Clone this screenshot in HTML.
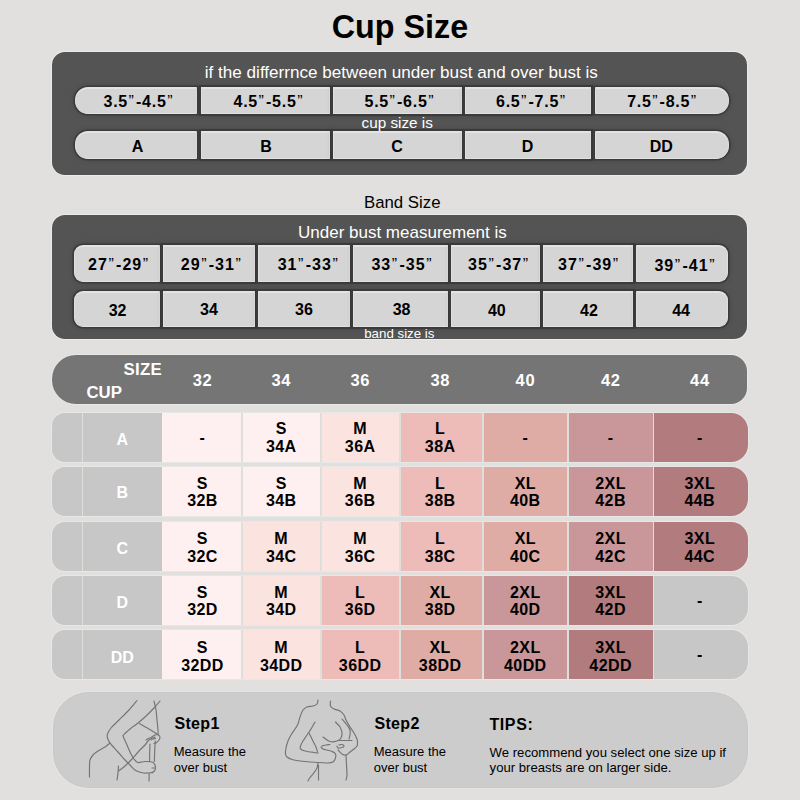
<!DOCTYPE html>
<html><head><meta charset="utf-8">
<style>
*{margin:0;padding:0;box-sizing:border-box}
html,body{width:800px;height:800px;overflow:hidden;background:#e1e0de;font-family:"Liberation Sans",sans-serif;color:#000}
.a{position:absolute}
.t{position:absolute;white-space:nowrap;text-align:center;line-height:1}
.box{position:absolute;background:#545454;border-radius:13px;box-shadow:0 0 0 1px #ebebea}
.c{position:absolute;background:#d5d5d5;border:1.6px solid #dfdfdf;border-top:2px solid #e3e3e3;border-bottom:1.8px solid #e1e1e1;box-shadow:0 0 0.5px 1.6px #3b3b3b,0 0 5px 2px rgba(0,0,0,0.12)}
.row{position:absolute;left:52px;width:696px;height:48.8px;border-radius:13px 17px 17px 13px;overflow:hidden;background:#dddfdb;box-shadow:0 0 0 1px #e7e7e5}
.cell{position:absolute;top:0;height:100%}
.S{background:#fef0f0}
.M{background:#fbe4e0}
.L{background:#edbbb8}
.XL{background:#deaca5}
.X2{background:#c9969a}
.X3{background:#b27b7e}
.G{background:#c7c7c7}
.q{font-weight:normal;margin:0 1.3px 0 0.6px}
</style></head><body>

<div class="t" style="left:-100.00px;width:1000px;top:11.36px;font-size:32.3px;font-weight:bold;color:#000;">Cup Size</div>
<div class="box" style="left:52px;top:52px;width:695px;height:123px"></div>
<div class="t" style="left:-98.70px;width:1000px;top:64.37px;font-size:17.1px;font-weight:normal;color:#fff;">if the differrnce between under bust and over bust is</div>
<div class="c" style="left:75px;top:87px;width:122px;height:27px;border-radius:13px 0 0 13px"></div>
<div class="c" style="left:75px;top:131px;width:122px;height:28px;border-radius:13px 0 0 13px"></div>
<div class="c" style="left:200.5px;top:87px;width:129.5px;height:27px;border-radius:0"></div>
<div class="c" style="left:200.5px;top:131px;width:129.5px;height:28px;border-radius:0"></div>
<div class="c" style="left:333px;top:87px;width:128.5px;height:27px;border-radius:0"></div>
<div class="c" style="left:333px;top:131px;width:128.5px;height:28px;border-radius:0"></div>
<div class="c" style="left:465px;top:87px;width:126px;height:27px;border-radius:0"></div>
<div class="c" style="left:465px;top:131px;width:126px;height:28px;border-radius:0"></div>
<div class="c" style="left:595px;top:87px;width:133.5px;height:27px;border-radius:0 13px 13px 0"></div>
<div class="c" style="left:595px;top:131px;width:133.5px;height:28px;border-radius:0 13px 13px 0"></div>
<div class="t" style="left:-361.00px;width:1000px;top:93.96px;font-size:16px;font-weight:bold;color:#000;letter-spacing:0.75px">3.5<span class="q">”</span>-4.5<span class="q">”</span></div>
<div class="t" style="left:-362.50px;width:1000px;top:139.31px;font-size:16px;font-weight:bold;color:#000;">A</div>
<div class="t" style="left:-231.00px;width:1000px;top:93.96px;font-size:16px;font-weight:bold;color:#000;letter-spacing:0.75px">4.5<span class="q">”</span>-5.5<span class="q">”</span></div>
<div class="t" style="left:-234.10px;width:1000px;top:139.31px;font-size:16px;font-weight:bold;color:#000;">B</div>
<div class="t" style="left:-100.00px;width:1000px;top:93.96px;font-size:16px;font-weight:bold;color:#000;letter-spacing:0.75px">5.5<span class="q">”</span>-6.5<span class="q">”</span></div>
<div class="t" style="left:-103.10px;width:1000px;top:139.31px;font-size:16px;font-weight:bold;color:#000;">C</div>
<div class="t" style="left:31.50px;width:1000px;top:93.96px;font-size:16px;font-weight:bold;color:#000;letter-spacing:0.75px">6.5<span class="q">”</span>-7.5<span class="q">”</span></div>
<div class="t" style="left:27.50px;width:1000px;top:139.31px;font-size:16px;font-weight:bold;color:#000;">D</div>
<div class="t" style="left:162.65px;width:1000px;top:93.96px;font-size:16px;font-weight:bold;color:#000;letter-spacing:0.75px">7.5<span class="q">”</span>-8.5<span class="q">”</span></div>
<div class="t" style="left:161.25px;width:1000px;top:139.31px;font-size:16px;font-weight:bold;color:#000;">DD</div>
<div class="t" style="left:-102.80px;width:1000px;top:114.75px;font-size:15.3px;font-weight:normal;color:#fff;">cup size is</div>
<div class="t" style="left:-97.75px;width:1000px;top:194.68px;font-size:16.8px;font-weight:normal;color:#000;">Band Size</div>
<div class="box" style="left:52px;top:215px;width:695px;height:124px"></div>
<div class="t" style="left:-97.60px;width:1000px;top:224.46px;font-size:17px;font-weight:normal;color:#fff;">Under bust measurement is</div>
<div class="c" style="left:74px;top:245px;width:86px;height:37px;border-radius:9px 0 0 9px"></div>
<div class="c" style="left:74px;top:291px;width:86px;height:35.8px;border-radius:9px 0 0 9px"></div>
<div class="c" style="left:163px;top:245px;width:92px;height:37px;border-radius:0"></div>
<div class="c" style="left:163px;top:291px;width:92px;height:35.8px;border-radius:0"></div>
<div class="c" style="left:258px;top:245px;width:92px;height:37px;border-radius:0"></div>
<div class="c" style="left:258px;top:291px;width:92px;height:35.8px;border-radius:0"></div>
<div class="c" style="left:353px;top:245px;width:95px;height:37px;border-radius:0"></div>
<div class="c" style="left:353px;top:291px;width:95px;height:35.8px;border-radius:0"></div>
<div class="c" style="left:451px;top:245px;width:89px;height:37px;border-radius:0"></div>
<div class="c" style="left:451px;top:291px;width:89px;height:35.8px;border-radius:0"></div>
<div class="c" style="left:543px;top:245px;width:90px;height:37px;border-radius:0"></div>
<div class="c" style="left:543px;top:291px;width:90px;height:35.8px;border-radius:0"></div>
<div class="c" style="left:636px;top:245px;width:92px;height:37px;border-radius:0 9px 9px 0"></div>
<div class="c" style="left:636px;top:291px;width:92px;height:35.8px;border-radius:0 9px 9px 0"></div>
<div class="t" style="left:-380.75px;width:1000px;top:257.31px;font-size:16px;font-weight:bold;color:#000;letter-spacing:1px">27<span class="q">”</span>-29<span class="q">”</span></div>
<div class="t" style="left:-382.40px;width:1000px;top:302.86px;font-size:16px;font-weight:bold;color:#000;">32</div>
<div class="t" style="left:-288.05px;width:1000px;top:257.31px;font-size:16px;font-weight:bold;color:#000;letter-spacing:1px">29<span class="q">”</span>-31<span class="q">”</span></div>
<div class="t" style="left:-291.00px;width:1000px;top:302.06px;font-size:16px;font-weight:bold;color:#000;">34</div>
<div class="t" style="left:-191.15px;width:1000px;top:257.31px;font-size:16px;font-weight:bold;color:#000;letter-spacing:1px">31<span class="q">”</span>-33<span class="q">”</span></div>
<div class="t" style="left:-196.00px;width:1000px;top:301.76px;font-size:16px;font-weight:bold;color:#000;">36</div>
<div class="t" style="left:-97.35px;width:1000px;top:257.31px;font-size:16px;font-weight:bold;color:#000;letter-spacing:1px">33<span class="q">”</span>-35<span class="q">”</span></div>
<div class="t" style="left:-98.40px;width:1000px;top:301.86px;font-size:16px;font-weight:bold;color:#000;">38</div>
<div class="t" style="left:-0.75px;width:1000px;top:257.31px;font-size:16px;font-weight:bold;color:#000;letter-spacing:1px">35<span class="q">”</span>-37<span class="q">”</span></div>
<div class="t" style="left:-3.20px;width:1000px;top:303.26px;font-size:16px;font-weight:bold;color:#000;">40</div>
<div class="t" style="left:89.25px;width:1000px;top:257.31px;font-size:16px;font-weight:bold;color:#000;letter-spacing:1px">37<span class="q">”</span>-39<span class="q">”</span></div>
<div class="t" style="left:88.90px;width:1000px;top:302.56px;font-size:16px;font-weight:bold;color:#000;">42</div>
<div class="t" style="left:185.65px;width:1000px;top:258.06px;font-size:16px;font-weight:bold;color:#000;letter-spacing:1px">39<span class="q">”</span>-41<span class="q">”</span></div>
<div class="t" style="left:181.10px;width:1000px;top:302.56px;font-size:16px;font-weight:bold;color:#000;">44</div>
<div class="t" style="left:-100.70px;width:1000px;top:326.64px;font-size:13.3px;font-weight:normal;color:#fff;">band size is</div>
<div class="a" style="left:52px;top:355px;width:695px;height:48.5px;border-radius:24px 16px 16px 24px;background:#757575;box-shadow:0 0 0 1px #e8e8e6"></div>
<div class="t" style="left:123.60px;top:361.71px;font-size:16.8px;font-weight:bold;color:#fff;text-align:left;letter-spacing:0.3px">SIZE</div>
<div class="t" style="left:86.40px;top:385.01px;font-size:16.8px;font-weight:bold;color:#fff;text-align:left;letter-spacing:0px">CUP</div>
<div class="t" style="left:-297.50px;width:1000px;top:372.05px;font-size:16.5px;font-weight:bold;color:#fff;letter-spacing:0.6px">32</div>
<div class="t" style="left:-218.70px;width:1000px;top:372.05px;font-size:16.5px;font-weight:bold;color:#fff;letter-spacing:0.6px">34</div>
<div class="t" style="left:-139.80px;width:1000px;top:372.05px;font-size:16.5px;font-weight:bold;color:#fff;letter-spacing:0.6px">36</div>
<div class="t" style="left:-59.80px;width:1000px;top:372.05px;font-size:16.5px;font-weight:bold;color:#fff;letter-spacing:0.6px">38</div>
<div class="t" style="left:25.40px;width:1000px;top:372.05px;font-size:16.5px;font-weight:bold;color:#fff;letter-spacing:0.6px">40</div>
<div class="t" style="left:110.70px;width:1000px;top:372.05px;font-size:16.5px;font-weight:bold;color:#fff;letter-spacing:0.6px">42</div>
<div class="t" style="left:199.90px;width:1000px;top:372.05px;font-size:16.5px;font-weight:bold;color:#fff;letter-spacing:0.6px">44</div>
<div class="row" style="top:413px">
<div class="cell G" style="left:0;width:29.8px"></div><div class="cell G" style="left:31.1px;width:79.5px"></div>
<div class="cell S" style="left:110.4px;width:78.8px"></div>
<div class="cell S" style="left:191.2px;width:77.0px"></div>
<div class="cell M" style="left:269.8px;width:77.4px"></div>
<div class="cell L" style="left:349.1px;width:80.9px"></div>
<div class="cell XL" style="left:431.7px;width:83.2px"></div>
<div class="cell X2" style="left:516.9px;width:83.8px"></div>
<div class="cell X3" style="left:602.4px;width:93.6px"></div>
</div>
<div class="t" style="left:-377.80px;width:1000px;top:431.51px;font-size:16px;font-weight:bold;color:#fff;">A</div>
<div class="t" style="left:-297.80px;width:1000px;top:429.91px;font-size:16px;font-weight:bold;color:#000;">-</div>
<div class="t" style="left:-218.80px;width:1000px;top:421.11px;font-size:16px;font-weight:bold;color:#000;letter-spacing:0.4px">S</div>
<div class="t" style="left:-218.80px;width:1000px;top:439.21px;font-size:16px;font-weight:bold;color:#000;letter-spacing:0.4px">34A</div>
<div class="t" style="left:-139.90px;width:1000px;top:421.11px;font-size:16px;font-weight:bold;color:#000;letter-spacing:0.4px">M</div>
<div class="t" style="left:-139.90px;width:1000px;top:439.21px;font-size:16px;font-weight:bold;color:#000;letter-spacing:0.4px">36A</div>
<div class="t" style="left:-59.90px;width:1000px;top:421.11px;font-size:16px;font-weight:bold;color:#000;letter-spacing:0.4px">L</div>
<div class="t" style="left:-59.90px;width:1000px;top:439.21px;font-size:16px;font-weight:bold;color:#000;letter-spacing:0.4px">38A</div>
<div class="t" style="left:25.10px;width:1000px;top:429.91px;font-size:16px;font-weight:bold;color:#000;">-</div>
<div class="t" style="left:110.40px;width:1000px;top:429.91px;font-size:16px;font-weight:bold;color:#000;">-</div>
<div class="t" style="left:199.60px;width:1000px;top:429.91px;font-size:16px;font-weight:bold;color:#000;">-</div>
<div class="row" style="top:467.3px">
<div class="cell G" style="left:0;width:29.8px"></div><div class="cell G" style="left:31.1px;width:79.5px"></div>
<div class="cell S" style="left:110.4px;width:78.8px"></div>
<div class="cell S" style="left:191.2px;width:77.0px"></div>
<div class="cell M" style="left:269.8px;width:77.4px"></div>
<div class="cell L" style="left:349.1px;width:80.9px"></div>
<div class="cell XL" style="left:431.7px;width:83.2px"></div>
<div class="cell X2" style="left:516.9px;width:83.8px"></div>
<div class="cell X3" style="left:602.4px;width:93.6px"></div>
</div>
<div class="t" style="left:-377.80px;width:1000px;top:484.81px;font-size:16px;font-weight:bold;color:#fff;">B</div>
<div class="t" style="left:-297.60px;width:1000px;top:476.01px;font-size:16px;font-weight:bold;color:#000;letter-spacing:0.4px">S</div>
<div class="t" style="left:-297.60px;width:1000px;top:492.91px;font-size:16px;font-weight:bold;color:#000;letter-spacing:0.4px">32B</div>
<div class="t" style="left:-218.80px;width:1000px;top:476.01px;font-size:16px;font-weight:bold;color:#000;letter-spacing:0.4px">S</div>
<div class="t" style="left:-218.80px;width:1000px;top:492.91px;font-size:16px;font-weight:bold;color:#000;letter-spacing:0.4px">34B</div>
<div class="t" style="left:-139.90px;width:1000px;top:476.01px;font-size:16px;font-weight:bold;color:#000;letter-spacing:0.4px">M</div>
<div class="t" style="left:-139.90px;width:1000px;top:492.91px;font-size:16px;font-weight:bold;color:#000;letter-spacing:0.4px">36B</div>
<div class="t" style="left:-59.90px;width:1000px;top:476.01px;font-size:16px;font-weight:bold;color:#000;letter-spacing:0.4px">L</div>
<div class="t" style="left:-59.90px;width:1000px;top:492.91px;font-size:16px;font-weight:bold;color:#000;letter-spacing:0.4px">38B</div>
<div class="t" style="left:25.30px;width:1000px;top:476.01px;font-size:16px;font-weight:bold;color:#000;letter-spacing:0.4px">XL</div>
<div class="t" style="left:25.30px;width:1000px;top:492.91px;font-size:16px;font-weight:bold;color:#000;letter-spacing:0.4px">40B</div>
<div class="t" style="left:110.60px;width:1000px;top:476.01px;font-size:16px;font-weight:bold;color:#000;letter-spacing:0.4px">2XL</div>
<div class="t" style="left:110.60px;width:1000px;top:492.91px;font-size:16px;font-weight:bold;color:#000;letter-spacing:0.4px">42B</div>
<div class="t" style="left:199.80px;width:1000px;top:476.01px;font-size:16px;font-weight:bold;color:#000;letter-spacing:0.4px">3XL</div>
<div class="t" style="left:199.80px;width:1000px;top:492.91px;font-size:16px;font-weight:bold;color:#000;letter-spacing:0.4px">44B</div>
<div class="row" style="top:521.8px">
<div class="cell G" style="left:0;width:29.8px"></div><div class="cell G" style="left:31.1px;width:79.5px"></div>
<div class="cell S" style="left:110.4px;width:78.8px"></div>
<div class="cell M" style="left:191.2px;width:77.0px"></div>
<div class="cell M" style="left:269.8px;width:77.4px"></div>
<div class="cell L" style="left:349.1px;width:80.9px"></div>
<div class="cell XL" style="left:431.7px;width:83.2px"></div>
<div class="cell X2" style="left:516.9px;width:83.8px"></div>
<div class="cell X3" style="left:602.4px;width:93.6px"></div>
</div>
<div class="t" style="left:-377.80px;width:1000px;top:540.76px;font-size:16px;font-weight:bold;color:#fff;">C</div>
<div class="t" style="left:-297.60px;width:1000px;top:531.26px;font-size:16px;font-weight:bold;color:#000;letter-spacing:0.4px">S</div>
<div class="t" style="left:-297.60px;width:1000px;top:549.31px;font-size:16px;font-weight:bold;color:#000;letter-spacing:0.4px">32C</div>
<div class="t" style="left:-218.80px;width:1000px;top:531.26px;font-size:16px;font-weight:bold;color:#000;letter-spacing:0.4px">M</div>
<div class="t" style="left:-218.80px;width:1000px;top:549.31px;font-size:16px;font-weight:bold;color:#000;letter-spacing:0.4px">34C</div>
<div class="t" style="left:-139.90px;width:1000px;top:531.26px;font-size:16px;font-weight:bold;color:#000;letter-spacing:0.4px">M</div>
<div class="t" style="left:-139.90px;width:1000px;top:549.31px;font-size:16px;font-weight:bold;color:#000;letter-spacing:0.4px">36C</div>
<div class="t" style="left:-59.90px;width:1000px;top:531.26px;font-size:16px;font-weight:bold;color:#000;letter-spacing:0.4px">L</div>
<div class="t" style="left:-59.90px;width:1000px;top:549.31px;font-size:16px;font-weight:bold;color:#000;letter-spacing:0.4px">38C</div>
<div class="t" style="left:25.30px;width:1000px;top:531.26px;font-size:16px;font-weight:bold;color:#000;letter-spacing:0.4px">XL</div>
<div class="t" style="left:25.30px;width:1000px;top:549.31px;font-size:16px;font-weight:bold;color:#000;letter-spacing:0.4px">40C</div>
<div class="t" style="left:110.60px;width:1000px;top:531.26px;font-size:16px;font-weight:bold;color:#000;letter-spacing:0.4px">2XL</div>
<div class="t" style="left:110.60px;width:1000px;top:549.31px;font-size:16px;font-weight:bold;color:#000;letter-spacing:0.4px">42C</div>
<div class="t" style="left:199.80px;width:1000px;top:531.26px;font-size:16px;font-weight:bold;color:#000;letter-spacing:0.4px">3XL</div>
<div class="t" style="left:199.80px;width:1000px;top:549.31px;font-size:16px;font-weight:bold;color:#000;letter-spacing:0.4px">44C</div>
<div class="row" style="top:576px">
<div class="cell G" style="left:0;width:29.8px"></div><div class="cell G" style="left:31.1px;width:79.5px"></div>
<div class="cell S" style="left:110.4px;width:78.8px"></div>
<div class="cell M" style="left:191.2px;width:77.0px"></div>
<div class="cell L" style="left:269.8px;width:77.4px"></div>
<div class="cell XL" style="left:349.1px;width:80.9px"></div>
<div class="cell X2" style="left:431.7px;width:83.2px"></div>
<div class="cell X3" style="left:516.9px;width:83.8px"></div>
<div class="cell G" style="left:602.4px;width:93.6px"></div>
</div>
<div class="t" style="left:-377.80px;width:1000px;top:594.51px;font-size:16px;font-weight:bold;color:#fff;">D</div>
<div class="t" style="left:-297.60px;width:1000px;top:585.26px;font-size:16px;font-weight:bold;color:#000;letter-spacing:0.4px">S</div>
<div class="t" style="left:-297.60px;width:1000px;top:602.11px;font-size:16px;font-weight:bold;color:#000;letter-spacing:0.4px">32D</div>
<div class="t" style="left:-218.80px;width:1000px;top:585.26px;font-size:16px;font-weight:bold;color:#000;letter-spacing:0.4px">M</div>
<div class="t" style="left:-218.80px;width:1000px;top:602.11px;font-size:16px;font-weight:bold;color:#000;letter-spacing:0.4px">34D</div>
<div class="t" style="left:-139.90px;width:1000px;top:585.26px;font-size:16px;font-weight:bold;color:#000;letter-spacing:0.4px">L</div>
<div class="t" style="left:-139.90px;width:1000px;top:602.11px;font-size:16px;font-weight:bold;color:#000;letter-spacing:0.4px">36D</div>
<div class="t" style="left:-59.90px;width:1000px;top:585.26px;font-size:16px;font-weight:bold;color:#000;letter-spacing:0.4px">XL</div>
<div class="t" style="left:-59.90px;width:1000px;top:602.11px;font-size:16px;font-weight:bold;color:#000;letter-spacing:0.4px">38D</div>
<div class="t" style="left:25.30px;width:1000px;top:585.26px;font-size:16px;font-weight:bold;color:#000;letter-spacing:0.4px">2XL</div>
<div class="t" style="left:25.30px;width:1000px;top:602.11px;font-size:16px;font-weight:bold;color:#000;letter-spacing:0.4px">40D</div>
<div class="t" style="left:110.60px;width:1000px;top:585.26px;font-size:16px;font-weight:bold;color:#000;letter-spacing:0.4px">3XL</div>
<div class="t" style="left:110.60px;width:1000px;top:602.11px;font-size:16px;font-weight:bold;color:#000;letter-spacing:0.4px">42D</div>
<div class="t" style="left:199.60px;width:1000px;top:592.91px;font-size:16px;font-weight:bold;color:#000;">-</div>
<div class="row" style="top:630.2px">
<div class="cell G" style="left:0;width:29.8px"></div><div class="cell G" style="left:31.1px;width:79.5px"></div>
<div class="cell S" style="left:110.4px;width:78.8px"></div>
<div class="cell M" style="left:191.2px;width:77.0px"></div>
<div class="cell L" style="left:269.8px;width:77.4px"></div>
<div class="cell XL" style="left:349.1px;width:80.9px"></div>
<div class="cell X2" style="left:431.7px;width:83.2px"></div>
<div class="cell X3" style="left:516.9px;width:83.8px"></div>
<div class="cell G" style="left:602.4px;width:93.6px"></div>
</div>
<div class="t" style="left:-377.80px;width:1000px;top:649.51px;font-size:16px;font-weight:bold;color:#fff;">DD</div>
<div class="t" style="left:-297.60px;width:1000px;top:640.41px;font-size:16px;font-weight:bold;color:#000;letter-spacing:0.4px">S</div>
<div class="t" style="left:-297.60px;width:1000px;top:657.61px;font-size:16px;font-weight:bold;color:#000;letter-spacing:0.4px">32DD</div>
<div class="t" style="left:-218.80px;width:1000px;top:640.41px;font-size:16px;font-weight:bold;color:#000;letter-spacing:0.4px">M</div>
<div class="t" style="left:-218.80px;width:1000px;top:657.61px;font-size:16px;font-weight:bold;color:#000;letter-spacing:0.4px">34DD</div>
<div class="t" style="left:-139.90px;width:1000px;top:640.41px;font-size:16px;font-weight:bold;color:#000;letter-spacing:0.4px">L</div>
<div class="t" style="left:-139.90px;width:1000px;top:657.61px;font-size:16px;font-weight:bold;color:#000;letter-spacing:0.4px">36DD</div>
<div class="t" style="left:-59.90px;width:1000px;top:640.41px;font-size:16px;font-weight:bold;color:#000;letter-spacing:0.4px">XL</div>
<div class="t" style="left:-59.90px;width:1000px;top:657.61px;font-size:16px;font-weight:bold;color:#000;letter-spacing:0.4px">38DD</div>
<div class="t" style="left:25.30px;width:1000px;top:640.41px;font-size:16px;font-weight:bold;color:#000;letter-spacing:0.4px">2XL</div>
<div class="t" style="left:25.30px;width:1000px;top:657.61px;font-size:16px;font-weight:bold;color:#000;letter-spacing:0.4px">40DD</div>
<div class="t" style="left:110.60px;width:1000px;top:640.41px;font-size:16px;font-weight:bold;color:#000;letter-spacing:0.4px">3XL</div>
<div class="t" style="left:110.60px;width:1000px;top:657.61px;font-size:16px;font-weight:bold;color:#000;letter-spacing:0.4px">42DD</div>
<div class="t" style="left:199.60px;width:1000px;top:647.11px;font-size:16px;font-weight:bold;color:#000;">-</div>
<div class="a" style="left:53px;top:692px;width:695px;height:96px;border-radius:36px;background:#cccccc;box-shadow:inset 0 0 2px rgba(0,0,0,0.07),0 0 0 1px #e4e4e2"></div>
<svg class="a" style="left:0;top:0" width="800" height="800" viewBox="0 0 800 800"><g fill="none" stroke="#747474" stroke-width="1.15" stroke-linecap="round" stroke-linejoin="round"><path d="M137,700.5 C135.7,702.1 132.0,706.8 129,710 C126.0,713.2 122.0,717.0 119,720 C116.0,723.0 112.9,725.7 111,728 C109.1,730.3 108.1,732.3 107.5,734 C106.9,735.7 107.1,736.5 107.5,738 C107.9,739.5 109.2,741.8 110,743 C110.8,744.2 110.7,744.0 112,745.5 C113.3,747.0 115.8,749.6 118,752 C120.2,754.4 123.0,757.8 125,760 C127.0,762.2 128.3,763.3 130,765 C131.7,766.7 133.2,768.8 135,770 C136.8,771.2 138.7,772.0 141,772.5 C143.3,773.0 147.0,773.1 149,773 C151.0,772.9 152.3,772.2 153,772"/><path d="M160,701 C159.0,702.2 156.5,705.3 154,708 C151.5,710.7 147.7,714.5 145,717 C142.3,719.5 140.5,721.0 138,723 C135.5,725.0 132.4,727.0 130,729 C127.6,731.0 124.6,733.7 123.5,735 C122.4,736.3 122.9,735.3 123.5,737 C124.1,738.7 125.8,742.2 127,745 C128.2,747.8 129.8,751.7 131,754 C132.2,756.3 132.8,757.6 134,759 C135.2,760.4 136.2,762.1 138,762.5 C139.8,762.9 142.7,761.6 145,761.5 C147.3,761.4 150.3,761.4 152,762 C153.7,762.6 154.5,763.7 155,765 C155.5,766.3 155.5,768.7 155,770 C154.5,771.3 152.5,772.5 152,773"/><path d="M139.5,723.5 C141.1,724.4 146.1,727.2 149,729 C151.9,730.8 155.7,733.2 157,734"/><path d="M154,701 C154.3,702.5 155.5,706.8 156,710 C156.5,713.2 156.7,716.7 157,720 C157.3,723.3 157.8,727.5 158,730 C158.2,732.5 158.0,734.2 158,735"/><path d="M110,743 C109.2,743.7 107.0,745.7 105,747 C103.0,748.3 100.0,749.7 98,751 C96.0,752.3 94.3,753.5 93,755 C91.7,756.5 90.6,758.0 90,760 C89.4,762.0 89.6,764.2 89.5,767 C89.4,769.8 89.5,775.3 89.5,777"/><path d="M118.5,771 C119.6,770.2 122.8,768.0 125,766 C127.2,764.0 129.7,761.5 132,759 C134.3,756.5 136.8,753.3 139,751 C141.2,748.7 143.3,746.8 145,745 C146.7,743.2 147.3,741.3 149,740 C150.7,738.7 154.0,737.5 155,737"/><path d="M118.5,766 C118.4,767.2 118.2,770.7 118,773 C117.8,775.3 117.2,778.8 117,780"/><path d="M150,744 C149.9,745.3 149.8,749.1 149.7,752 C149.6,754.9 149.6,759.9 149.6,761.5"/><path d="M149.2,773.5 L149,781"/><path d="M155.2,741 C155.1,742.8 154.8,748.6 154.7,752 C154.5,755.4 154.4,759.9 154.3,761.5"/><path d="M146,740 C146.4,739.8 147.7,738.9 148.5,738.5 C149.3,738.1 150.1,738.0 151,737.5 C151.9,737.0 152.9,736.0 154,735.5 C155.1,735.0 156.5,734.2 157.5,734.5 C158.5,734.8 159.8,736.1 160,737 C160.2,737.9 159.7,739.0 159,740 C158.3,741.0 156.8,742.4 156,743 C155.2,743.6 154.3,743.4 154,743.5"/><path d="M151,740 C151.3,739.8 152.2,739.2 153,739 C153.8,738.8 155.1,738.6 155.5,738.5"/><path d="M152,768 L155,768"/><path d="M318,700 C317.8,700.7 317.8,703.0 317,704 C316.2,705.0 314.7,705.5 313,706 C311.3,706.5 308.7,706.3 307,707 C305.3,707.7 304.2,708.3 303,710 C301.8,711.7 300.8,714.7 300,717 C299.2,719.3 298.8,722.0 298,724 C297.2,726.0 296.2,727.2 295,729 C293.8,730.8 292.2,733.0 291,735 C289.8,737.0 288.8,738.8 288,741 C287.2,743.2 286.4,745.8 286,748 C285.6,750.2 285.3,752.5 285.5,754 C285.7,755.5 285.9,756.1 287,757 C288.1,757.9 289.8,758.8 292,759.5 C294.2,760.2 297.0,760.6 300,761 C303.0,761.4 306.7,761.8 310,762 C313.3,762.2 317.0,762.3 320,762.5 C323.0,762.7 325.8,763.1 328,763 C330.2,762.9 331.8,762.8 333,762 C334.2,761.2 335.1,759.3 335.5,758 C335.9,756.7 335.9,755.0 335.5,754 C335.1,753.0 333.4,752.3 333,752"/><path d="M330.5,701 C330.5,701.8 329.9,704.7 330.5,706 C331.1,707.3 332.4,708.2 334,709 C335.6,709.8 338.3,710.0 340,711 C341.7,712.0 343.0,713.5 344,715 C345.0,716.5 345.0,718.0 346,720 C347.0,722.0 348.7,724.8 350,727 C351.3,729.2 352.8,731.0 354,733 C355.2,735.0 356.4,737.3 357,739 C357.6,740.7 357.5,741.8 357.5,743 C357.5,744.2 357.6,745.0 357,746 C356.4,747.0 355.2,748.0 354,749 C352.8,750.0 351.3,751.0 350,752 C348.7,753.0 347.3,754.7 346,755 C344.7,755.3 343.3,754.8 342,754 C340.7,753.2 338.7,750.7 338,750"/><path d="M342,719 C342.8,720.0 345.7,723.2 347,725 C348.3,726.8 349.5,728.3 350,730 C350.5,731.7 350.2,733.5 350,735 C349.8,736.5 349.2,738.3 349,739"/><path d="M315,722 C314.3,723.2 312.3,726.8 311,729 C309.7,731.2 308.3,733.0 307,735 C305.7,737.0 304.1,739.2 303,741 C301.9,742.8 300.9,744.7 300.5,746 C300.1,747.3 299.8,748.2 300.5,749 C301.2,749.8 302.8,750.4 305,751 C307.2,751.6 311.8,752.2 314,752.5 C316.2,752.8 317.3,752.9 318,753"/><path d="M309,733 C309.5,734.0 311.2,737.3 312,739 C312.8,740.7 313.3,741.7 314,743 C314.7,744.3 315.4,745.5 316,747 C316.6,748.5 317.2,751.2 317.5,752"/><path d="M335.5,722 C336.2,722.8 338.9,725.2 340,727 C341.1,728.8 341.8,731.2 342,733 C342.2,734.8 341.8,736.7 341,738 C340.2,739.3 338.8,740.4 337,741 C335.2,741.6 332.3,742.2 330,741.5 C327.7,740.8 324.2,737.8 323,737"/><path d="M339,740.5 L352,740.5"/><path d="M339,745 C339.5,744.9 341.2,744.3 342,744.5 C342.8,744.7 344.0,745.5 344,746 C344.0,746.5 343.0,747.2 342,747.5 C341.0,747.8 338.8,748.2 338,748 C337.2,747.8 337.2,746.3 337,746"/><path d="M321,747 C321.3,747.3 322.0,748.5 323,749 C324.0,749.5 325.7,749.7 327,750 C328.3,750.3 329.8,750.6 331,751 C332.2,751.4 333.5,752.2 334,752.5"/><path d="M322,746 C322.7,745.8 324.7,745.2 326,745 C327.3,744.8 329.3,744.6 330,744.5"/><path d="M318,763 C317.8,763.8 317.8,766.2 317,768 C316.2,769.8 314.3,772.2 313,774 C311.7,775.8 309.8,777.8 309,779 C308.2,780.2 308.2,780.7 308,781"/><path d="M318.5,765 C318.5,766.3 318.5,770.5 318.5,773 C318.5,775.5 318.5,778.8 318.5,780"/><path d="M346,755 C346.1,756.7 346.3,761.7 346.5,765 C346.7,768.3 347.1,772.5 347,775 C346.9,777.5 346.2,779.2 346,780"/></g></svg>
<div class="t" style="left:174.40px;top:716.31px;font-size:16px;font-weight:bold;color:#000;text-align:left;letter-spacing:0.35px">Step1</div>
<div class="t" style="left:173.75px;top:744.90px;font-size:13px;font-weight:normal;color:#000;text-align:left;">Measure the</div>
<div class="t" style="left:173.75px;top:760.55px;font-size:13px;font-weight:normal;color:#000;text-align:left;">over bust</div>
<div class="t" style="left:374.40px;top:716.31px;font-size:16px;font-weight:bold;color:#000;text-align:left;letter-spacing:0.35px">Step2</div>
<div class="t" style="left:373.75px;top:744.90px;font-size:13px;font-weight:normal;color:#000;text-align:left;">Measure the</div>
<div class="t" style="left:373.75px;top:760.55px;font-size:13px;font-weight:normal;color:#000;text-align:left;">over bust</div>
<div class="t" style="left:489.45px;top:717.06px;font-size:16px;font-weight:bold;color:#000;text-align:left;letter-spacing:0.6px">TIPS:</div>
<div class="t" style="left:489.60px;top:746.27px;font-size:13.15px;font-weight:normal;color:#000;text-align:left;">We recommend you select one size up if</div>
<div class="t" style="left:489.60px;top:761.27px;font-size:13.15px;font-weight:normal;color:#000;text-align:left;">your breasts are on larger side.</div>
</body></html>
